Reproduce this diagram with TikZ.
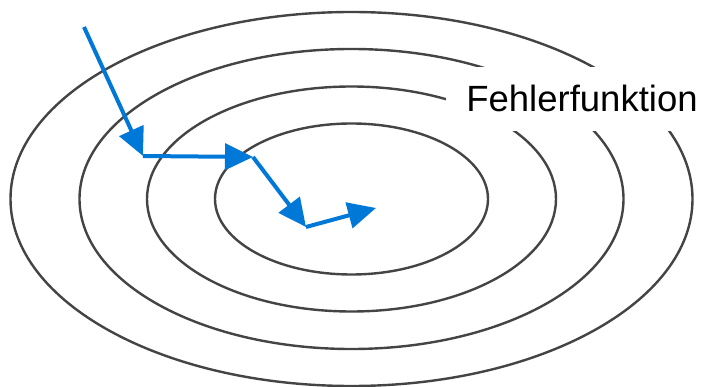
\documentclass[tikz,border=0pt]{standalone}
\usepackage{fontspec}
\setmainfont{Liberation Sans}
\usetikzlibrary{arrows.meta,positioning}
\definecolor{StepBlue}{HTML}{0078D7}
\definecolor{ContourGray}{HTML}{444444}
\tikzset{
    % Contour lines of the error surface
    contour/.style={
        draw=ContourGray,
        line width=2.4pt
    },
    % Gradient step
    stepline/.style={
        -{Triangle[length=28pt,width=26pt]},
        draw=StepBlue,
        line width=4pt
    },
    % Label with white background
    labelnode/.style={
        fill=white,
        inner xsep=20pt,
        inner ysep=19pt,
        font=\fontsize{36.5}{40}\selectfont
    }
}
\begin{document}
\begin{tikzpicture}[x=1pt,y=-1pt]
    \clip (0,0) rectangle (704,387);
    \fill[white] (0,0) rectangle (704,387);
    \coordinate (mid) at (351.5,199);

    % Contours
    \foreach \rx/\ry in {136.5/75.5, 204.5/112.5, 272/150, 341/187}{
        \draw[contour] (mid) ellipse [x radius=\rx, y radius=\ry];
    }

    % Label
    \node[labelnode,anchor=base] (txt) at (582,112) {Fehlerfunktion};

    % Steps
    \coordinate (p0) at (84,27);
    \coordinate (p1) at (143,156);
    \coordinate (p2) at (253,157);
    \coordinate (p3) at (306,227);
    \coordinate (p4) at (376,208);
    \draw[stepline] (p0) -- (p1);
    \draw[stepline] (p1) -- (p2);
    \draw[stepline] (p2) -- (p3);
    \draw[stepline] (p3) -- (p4);
\end{tikzpicture}
\end{document}
